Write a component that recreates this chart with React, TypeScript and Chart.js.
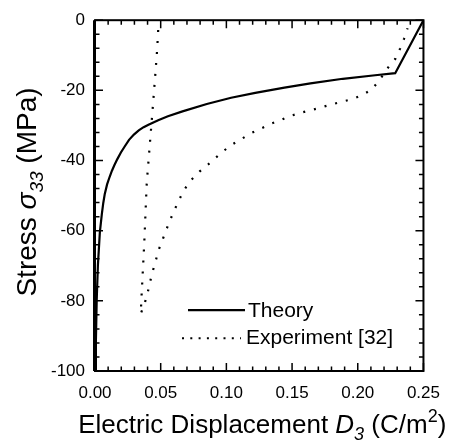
import React, { useEffect, useRef } from 'react';
import { Chart, registerables } from 'chart.js';

Chart.register(...registerables);

const FONT = '"Liberation Sans", Arial, Helvetica, sans-serif';

// Theory curve (solid)
const theoryD = [0.0004, 0.0007, 0.0013, 0.0022, 0.0037, 0.0052, 0.0063, 0.0074, 0.0092, 0.0111, 0.0129, 0.0148, 0.017, 0.0197, 0.0226, 0.0259, 0.0296, 0.0333, 0.037, 0.0407, 0.0481, 0.0555, 0.0666, 0.0851, 0.1036, 0.122, 0.1442, 0.164, 0.1886, 0.2132, 0.2285, 0.25];
const theoryStress = [-100, -91.3, -79.8, -69.9, -60.4, -55.3, -52.1, -49.6, -46.8, -44.7, -42.9, -41.3, -39.6, -37.7, -36.0, -34.1, -32.6, -31.4, -30.5, -29.8, -28.5, -27.4, -26.0, -23.9, -22.1, -20.7, -19.2, -18.0, -16.7, -15.7, -15.1, 0];

// Experiment [32] (dotted)
const expD = [0.0481, 0.0473, 0.0461, 0.0449, 0.0431, 0.0412, 0.0394, 0.0375, 0.0355, 0.0348,
  0.0379, 0.0402, 0.0419, 0.0439, 0.0461, 0.0481, 0.051, 0.0538, 0.0567, 0.0599, 0.0634, 0.0673, 0.0723, 0.0797, 0.0875, 0.0949,
  0.1028, 0.1109, 0.1183, 0.1263, 0.1341, 0.1418, 0.1494, 0.1573, 0.1649, 0.1726, 0.1802, 0.1881, 0.196, 0.2036, 0.2108, 0.2169,
  0.2224, 0.2286, 0.2322, 0.2352, 0.2379];
const expStress = [-2.8, -8.4, -14.5, -20.3, -29.0, -37.9, -46.3, -63.5, -78.1, -83.7,
  -80.6, -77.5, -74.6, -71.6, -68.8, -65.8, -63.0, -60.2, -57.4, -54.6, -51.7, -48.7, -45.9, -43.1, -40.7, -38.2,
  -35.8, -34.0, -32.3, -30.9, -29.5, -28.4, -27.2, -26.3, -25.6, -24.8, -24.0, -23.2, -22.5, -21.3, -19.7, -16.9,
  -13.8, -11.0, -8.1, -5.3, -2.3];

const xTickValues = [0, 0.05, 0.1, 0.15, 0.2, 0.25];
const yTickValues = [-100, -80, -60, -40, -20, 0];
const seriesLabels = ['Theory', 'Experiment [32]'];

type Run = { t: string; font: string; dy?: number };

function drawRuns(ctx: CanvasRenderingContext2D, runs: Run[], cx: number, baseline: number) {
  let total = 0;
  const widths = runs.map((r) => {
    ctx.font = r.font;
    const w = ctx.measureText(r.t).width;
    total += w;
    return w;
  });
  let x = cx - total / 2;
  ctx.textAlign = 'left';
  ctx.textBaseline = 'alphabetic';
  runs.forEach((r, i) => {
    ctx.font = r.font;
    ctx.fillText(r.t, x, baseline + (r.dy || 0));
    x += widths[i];
  });
}

const decorPlugin = {
  id: 'decor',
  afterDraw(chart: any) {
    const ctx: CanvasRenderingContext2D = chart.ctx;
    const { left, right, top, bottom } = chart.chartArea;
    const xs = chart.scales.x;
    const ys = chart.scales.y;
    ctx.save();
    ctx.strokeStyle = '#000';
    ctx.fillStyle = '#000';
    // frame
    ctx.lineWidth = 2;
    ctx.strokeRect(left, top, right - left, bottom - top);
    ctx.lineWidth = 3;
    ctx.beginPath();
    ctx.moveTo(left - 0.5, top);
    ctx.lineTo(left - 0.5, bottom);
    ctx.stroke();
    // inward ticks
    ctx.lineWidth = 1.5;
    ctx.beginPath();
    for (let i = 0; i <= 25; i++) {
      const px = xs.getPixelForValue(i * 0.01);
      const len = i % 5 === 0 ? 8 : 4.5;
      ctx.moveTo(px, bottom);
      ctx.lineTo(px, bottom - len);
      ctx.moveTo(px, top);
      ctx.lineTo(px, top + len);
    }
    for (let i = 0; i <= 25; i++) {
      const py = ys.getPixelForValue(-100 + i * 4);
      const len = i % 5 === 0 ? 8 : 4.5;
      ctx.moveTo(left, py);
      ctx.lineTo(left + len, py);
      ctx.moveTo(right, py);
      ctx.lineTo(right - len, py);
    }
    ctx.stroke();

    // legend
    const lx0 = left + 93;
    ctx.lineWidth = 2.2;
    ctx.beginPath();
    ctx.moveTo(lx0, top + 290);
    ctx.lineTo(lx0 + 57, top + 290);
    ctx.stroke();
    ctx.lineWidth = 2;
    ctx.setLineDash([2, 6.3]);
    ctx.beginPath();
    ctx.moveTo(lx0 - 6, top + 318);
    ctx.lineTo(lx0 + 53, top + 318);
    ctx.stroke();
    ctx.setLineDash([]);
    ctx.font = '21px ' + FONT;
    ctx.textAlign = 'left';
    ctx.textBaseline = 'middle';
    ctx.fillText(seriesLabels[0], lx0 + 60, top + 291);
    ctx.fillText(seriesLabels[1], lx0 + 58, top + 318);

    // x title
    const cx = (left + right) / 2 + 3;
    drawRuns(ctx, [
      { t: 'Electric Displacement ', font: '26px ' + FONT },
      { t: 'D', font: 'italic 26px ' + FONT },
      { t: '3', font: 'italic 18px ' + FONT, dy: 7 },
      { t: ' (C/m', font: '26px ' + FONT },
      { t: '2', font: '18px ' + FONT, dy: -11 },
      { t: ')', font: '26px ' + FONT },
    ], cx, 433);

    // y title
    ctx.save();
    ctx.translate(36, 192);
    ctx.rotate(-Math.PI / 2);
    drawRuns(ctx, [
      { t: 'Stress ', font: '28px ' + FONT },
      { t: 'σ', font: 'italic 28px ' + FONT },
      { t: '33', font: 'italic 19px ' + FONT, dy: 7 },
      { t: ' (MPa)', font: '28px ' + FONT },
    ], 0, 0);
    ctx.restore();
    ctx.restore();
  },
};

export default function App() {
  const ref = useRef<HTMLCanvasElement | null>(null);
  useEffect(() => {
    if (!ref.current) return;
    const chart = new Chart(ref.current, {
      type: 'line',
      data: {
        datasets: [
          {
            label: seriesLabels[0],
            data: theoryD.map((d, i) => ({ x: d, y: theoryStress[i] })),
            borderColor: '#000',
            borderWidth: 2.2,
            pointRadius: 0,
            fill: false,
            tension: 0,
          },
          {
            label: seriesLabels[1],
            data: expD.map((d, i) => ({ x: d, y: expStress[i] })),
            borderColor: '#000',
            borderWidth: 2.2,
            borderDash: [2, 9],
            pointRadius: 0,
            fill: false,
            tension: 0,
          },
        ],
      },
      options: {
        animation: false,
        responsive: false,
        devicePixelRatio: 1,
        layout: { padding: { left: 0, top: 15, right: 19, bottom: 0 } },
        plugins: { legend: { display: false }, tooltip: { enabled: false } },
        events: [],
        scales: {
          x: {
            type: 'linear',
            min: 0,
            max: 0.25,
            afterBuildTicks: (s: any) => {
              s.ticks = xTickValues.map((v) => ({ value: v }));
            },
            afterFit: (s: any) => {
              s.height = 74;
            },
            ticks: {
              callback: (v: any) => Number(v).toFixed(2),
              font: { family: FONT, size: 17 },
              color: '#000',
              padding: 12,
              maxRotation: 0,
              autoSkip: false,
            },
            grid: { display: false, drawTicks: false },
            border: { display: false },
          },
          y: {
            type: 'linear',
            min: -100,
            max: 0,
            afterBuildTicks: (s: any) => {
              s.ticks = yTickValues.map((v) => ({ value: v }));
            },
            afterFit: (s: any) => {
              s.width = 95;
            },
            ticks: {
              callback: (v: any) => String(v),
              font: { family: FONT, size: 17 },
              color: '#000',
              padding: 10,
              autoSkip: false,
            },
            grid: { display: false, drawTicks: false },
            border: { display: false },
          },
        },
      },
      plugins: [decorPlugin],
    } as any);
    return () => chart.destroy();
  }, []);
  return (
    <div style={{ position: 'fixed', left: 0, top: 0, width: 452, height: 445, background: '#fff' }}>
      <canvas ref={ref} width={452} height={445} style={{ display: 'block' }} />
    </div>
  );
}
